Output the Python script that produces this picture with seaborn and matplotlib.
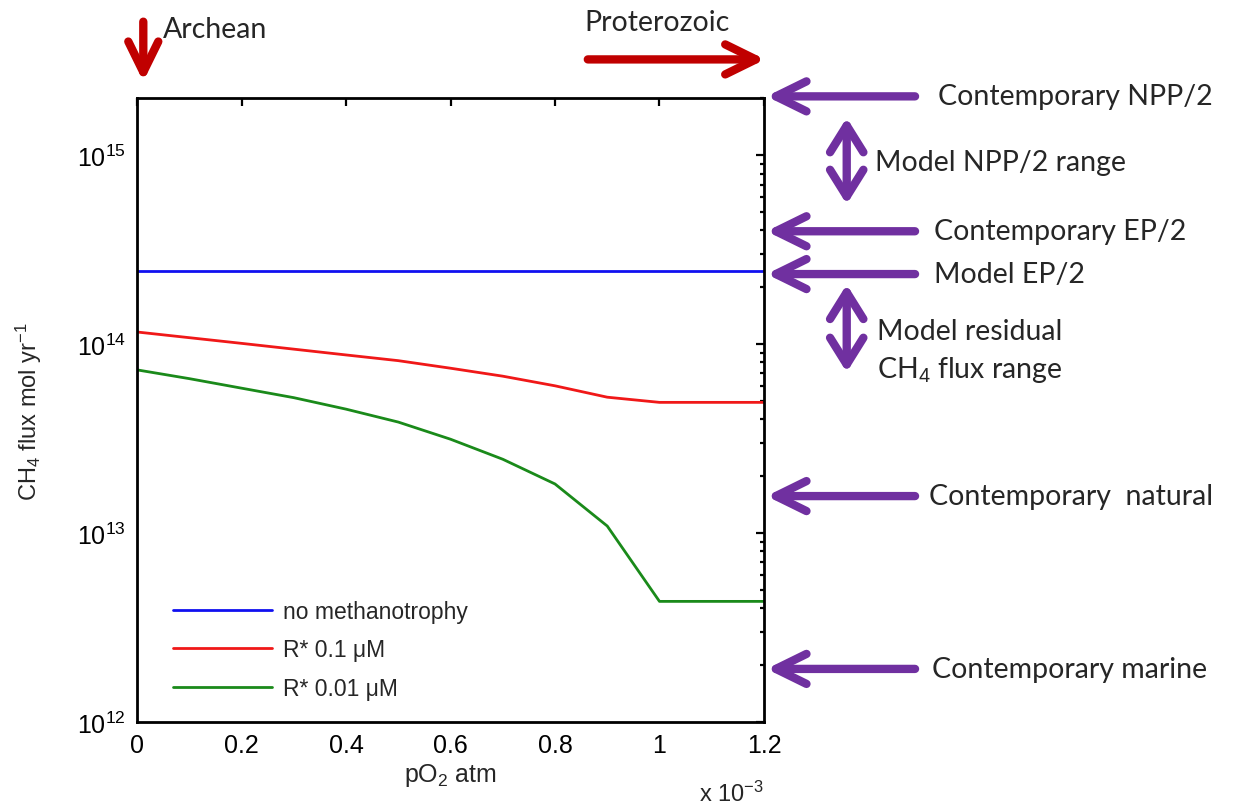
import matplotlib
matplotlib.use("Agg")
import matplotlib.pyplot as plt
import matplotlib.ticker as mticker
import seaborn as sns
import pandas as pd

# model curves, pO2 in units of 1e-3 atm
po2_blue = [0.0, 1.2]
flux_blue = [2.43e14, 2.43e14]

po2_red = [0.0, 0.2, 0.4, 0.5, 0.6, 0.7, 0.8, 0.9, 1.0, 1.2]
flux_red = [1.16e14, 1.01e14, 8.77e13, 8.18e13, 7.46e13, 6.77e13, 6.02e13,
            5.24e13, 4.92e13, 4.92e13]

po2_green = [0.0, 0.1, 0.2, 0.3, 0.4, 0.5, 0.6, 0.7, 0.8, 0.9, 1.0, 1.2]
flux_green = [7.31e13, 6.57e13, 5.85e13, 5.21e13, 4.53e13, 3.87e13, 3.14e13,
              2.46e13, 1.82e13, 1.09e13, 4.35e12, 4.35e12]

series_names = ["no methanotrophy", "R* 0.1 \u03bcM", "R* 0.01 \u03bcM"]
series_colors = ["#1010F0", "#F01818", "#1A8A1A"]

# reference fluxes marked on the right
ref_labels = ["Contemporary NPP/2", "Contemporary EP/2", "Model EP/2",
              "Contemporary  natural", "Contemporary marine"]
ref_flux = [2.05e15, 3.96e14, 2.35e14, 1.57e13, 1.91e12]
ref_text_x = [1.277, 1.272, 1.272, 1.264, 1.268]

range_labels = ["Model NPP/2 range", "Model residual\nCH$_4$ flux range"]
range_top = [1.58e15, 2.07e14]
range_bottom = [5.5e14, 7.1e13]
range_text_flux = [9.2e14, 9.2e13]
range_text_x = [1.177, 1.181]

xticks = [0, 0.2, 0.4, 0.6, 0.8, 1.0, 1.2]

df = pd.concat([
    pd.DataFrame({"pO2": po2_blue, "flux": flux_blue, "series": series_names[0]}),
    pd.DataFrame({"pO2": po2_red, "flux": flux_red, "series": series_names[1]}),
    pd.DataFrame({"pO2": po2_green, "flux": flux_green, "series": series_names[2]}),
])

sns.set_style("white")
plt.rcParams["font.family"] = ["Liberation Sans", "DejaVu Sans"]
plt.rcParams["mathtext.fontset"] = "custom"
plt.rcParams["mathtext.rm"] = "Liberation Sans"
plt.rcParams["mathtext.it"] = "Liberation Sans:italic"

purple = "#7030A0"
dark_red = "#C00000"
ann_font = "Lato"
ann_size = 20.5
ann_color = "#262626"
head = "head_length=0.55, head_width=0.27"
head2 = "head_length=0.48, head_width=0.3"

fig = plt.figure(figsize=(12.39, 8.12), dpi=100)
ax = fig.add_axes([0.1106, 0.1096, 0.506, 0.768])

sns.lineplot(data=df, x="pO2", y="flux", hue="series", hue_order=series_names,
             palette=dict(zip(series_names, series_colors)), estimator=None,
             sort=False, errorbar=None, linewidth=2, ax=ax)

ax.set_yscale("log")
ax.set_xlim(0, 1.2)
ax.set_ylim(1e12, 2e15)
ax.set_xticks(xticks)
ax.xaxis.set_major_formatter(mticker.FuncFormatter(lambda v, p: "%g" % v))
ax.yaxis.set_major_locator(mticker.LogLocator(base=10, numticks=10))
ax.yaxis.set_minor_locator(mticker.LogLocator(base=10, subs=range(2, 10), numticks=20))
ax.yaxis.set_minor_formatter(mticker.NullFormatter())

for s in ax.spines.values():
    s.set_linewidth(2)
    s.set_color("black")
ax.tick_params(which="both", direction="in", top=True, right=True, width=1.6,
               labelsize=18, colors="black")
ax.tick_params(which="major", length=6, pad=8)
ax.tick_params(which="minor", length=3)

ax.set_xlabel("pO$_2$ atm", fontsize=18)
ax.xaxis.set_label_coords(0.5, -0.062)
ax.set_ylabel("CH$_4$ flux mol yr$^{-1}$", fontsize=17)
ax.yaxis.set_label_coords(-0.148, 0.5)
ax.text(1.0, -0.114, "x 10$^{-3}$", transform=ax.transAxes, ha="right", va="center",
        fontsize=17)

handles, labels = ax.get_legend_handles_labels()
ax.legend(handles, labels, loc="upper left", bbox_to_anchor=(0.057, 0.196),
          frameon=False, fontsize=16.5, handlelength=4.32, handletextpad=0.48,
          labelspacing=0.68, borderpad=0, borderaxespad=0)

# purple reference arrows pointing at the right axis
for lab, val, tx in zip(ref_labels, ref_flux, ref_text_x):
    ax.annotate("", xy=(1.004, val), xytext=(1.241, val),
                xycoords=("axes fraction", "data"), annotation_clip=False,
                arrowprops=dict(arrowstyle="->, " + head, color=purple, lw=6,
                                shrinkA=0, shrinkB=0, mutation_scale=40))
    ax.text(tx, val, lab, transform=ax.get_yaxis_transform(), ha="left",
            va="center", fontsize=ann_size, family=ann_font, color=ann_color)

for lab, top, bot, ty, tx in zip(range_labels, range_top, range_bottom,
                                 range_text_flux, range_text_x):
    ax.annotate("", xy=(1.132, top), xytext=(1.132, bot),
                xycoords=("axes fraction", "data"), annotation_clip=False,
                arrowprops=dict(arrowstyle="<->, " + head2, color=purple, lw=6,
                                shrinkA=0, shrinkB=0, mutation_scale=40))
    ax.text(tx, ty, lab, transform=ax.get_yaxis_transform(), ha="left",
            va="center", fontsize=ann_size, family=ann_font, color=ann_color,
            linespacing=1.45)

# era arrows above the plot
ax.annotate("", xy=(0.01, 1.027), xytext=(0.01, 1.123), xycoords="axes fraction",
            annotation_clip=False,
            arrowprops=dict(arrowstyle="->, " + head, color=dark_red, lw=6,
                            shrinkA=0, shrinkB=0, mutation_scale=40))
ax.text(0.041, 1.111, "Archean", transform=ax.transAxes, ha="left", va="center",
        fontsize=ann_size, family=ann_font, color=ann_color)
ax.annotate("", xy=(1.002, 1.0625), xytext=(0.719, 1.0625), xycoords="axes fraction",
            annotation_clip=False,
            arrowprops=dict(arrowstyle="->, " + head, color=dark_red, lw=6,
                            shrinkA=0, shrinkB=0, mutation_scale=40))
ax.text(0.714, 1.123, "Proterozoic", transform=ax.transAxes, ha="left", va="center",
        fontsize=ann_size, family=ann_font, color=ann_color)

fig.savefig("out.png", dpi=100)
